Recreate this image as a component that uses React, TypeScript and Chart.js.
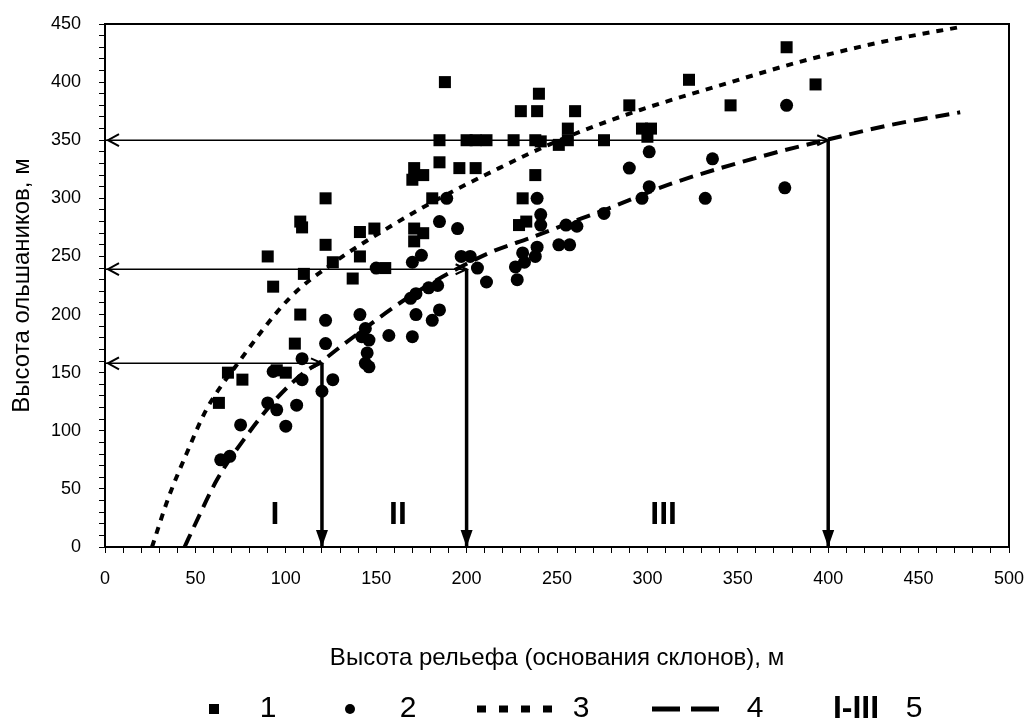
import React, { useEffect, useRef } from 'react';
import { Chart, registerables } from 'chart.js';

Chart.register(...registerables);

// ---- data ----
const squareX = [63, 68, 76, 90, 93, 95, 100, 105, 108, 108, 109, 110, 122, 122, 126, 137, 141, 141, 149, 155, 170, 171, 176, 171, 176, 171, 181, 185, 185, 188, 196, 205, 200, 205, 211, 226, 229, 233, 231, 230, 238, 238, 241, 239, 240, 251, 256, 256, 260, 276, 290, 297, 302, 300, 323, 346, 377, 393];
const squareY = [124, 150, 144, 250, 224, 152, 150, 175, 200, 280, 275, 235, 300, 260, 245, 231, 250, 271, 274, 240, 316, 326, 320, 274, 270, 263, 300, 331, 350, 400, 326, 326, 350, 350, 350, 350, 277, 280, 300, 375, 320, 350, 349, 375, 390, 346, 350, 360, 375, 350, 380, 360, 360, 353, 402, 380, 430, 398];

const circleX = [64, 69, 75, 90, 93, 95, 100, 106, 109, 109, 120, 122, 122, 126, 141, 142, 144, 146, 145, 144, 146, 150, 157, 169, 170, 170, 172, 172, 175, 179, 181, 184, 185, 185, 189, 195, 197, 202, 206, 211, 227, 228, 231, 232, 238, 239, 239, 241, 241, 251, 255, 257, 261, 276, 290, 297, 301, 301, 332, 336, 376, 377];
const circleY = [75, 78, 105, 124, 151, 118, 104, 122, 144, 162, 134, 175, 195, 144, 200, 181, 188, 178, 167, 158, 155, 240, 182, 214, 181, 245, 200, 218, 251, 223, 195, 225, 204, 280, 300, 274, 250, 250, 240, 228, 241, 230, 253, 245, 250, 258, 300, 286, 277, 260, 277, 260, 276, 287, 326, 300, 310, 340, 300, 334, 309, 380];

const trend3X = [26, 35, 45, 56, 73, 102, 125, 158, 185, 218, 241, 264, 296, 344, 388, 434, 475];
const trend3Y = [0, 42, 80, 118, 157, 214, 243, 276, 300, 326, 343, 358, 376, 399, 419, 436, 448];

const trend4X = [44, 50, 62, 78, 95, 110, 120, 130, 169, 211, 237, 264, 278, 314, 370, 401, 434, 473];
const trend4Y = [0, 20, 58, 95, 128, 150, 160, 172, 216, 252, 267, 283, 291, 313, 339, 351, 363, 374];

const arrowLevels = [158, 239, 350];
const arrowBounds = [120, 200, 400];

const zoneLabels = ['I', 'II', 'III'];
const zoneX = [94, 162, 309];
const zoneY = [27, 27, 27];

const xTickLabels = ['0', '50', '100', '150', '200', '250', '300', '350', '400', '450', '500'];
const yTickLabels = ['0', '50', '100', '150', '200', '250', '300', '350', '400', '450'];

const legendLabels = ['1', '2', '3', '4', '5'];
const legendZoneText = 'I-III';

const xTitle = 'Высота рельефа (основания склонов), м';
const yTitle = 'Высота ольшаников, м';

const FONT = '"Liberation Sans", Arial, sans-serif';

const pairs = (xs: number[], ys: number[]) => xs.map((x, i) => ({ x, y: ys[i] }));

const decorPlugin = {
  id: 'decor',
  afterDatasetsDraw(chart: any) {
    const { ctx, chartArea, scales } = chart;
    const xs = scales.x;
    const ys = scales.y;
    ctx.save();
    ctx.strokeStyle = '#000';
    ctx.lineWidth = 2;
    ctx.strokeRect(chartArea.left, chartArea.top, chartArea.right - chartArea.left, chartArea.bottom - chartArea.top);

    const x0 = xs.getPixelForValue(0);
    const y0 = ys.getPixelForValue(0);
    ctx.fillStyle = '#000';
    ctx.lineWidth = 2;
    for (let i = 0; i < arrowLevels.length; i++) {
      const py = ys.getPixelForValue(arrowLevels[i]);
      const px = xs.getPixelForValue(arrowBounds[i]);
      ctx.beginPath();
      ctx.moveTo(x0 + 14, py - 6);
      ctx.lineTo(x0 + 3, py);
      ctx.lineTo(x0 + 14, py + 6);
      ctx.stroke();
      ctx.beginPath();
      ctx.moveTo(px - 11, py - 5);
      ctx.lineTo(px, py);
      ctx.lineTo(px - 11, py + 5);
      ctx.stroke();
      ctx.beginPath();
      ctx.moveTo(px, y0);
      ctx.lineTo(px - 6, y0 - 17);
      ctx.lineTo(px + 6, y0 - 17);
      ctx.closePath();
      ctx.fill();
    }

    ctx.font = `bold 32px ${FONT}`;
    ctx.textAlign = 'center';
    ctx.textBaseline = 'middle';
    for (let i = 0; i < zoneLabels.length; i++) {
      ctx.fillText(zoneLabels[i], xs.getPixelForValue(zoneX[i]), ys.getPixelForValue(zoneY[i]));
    }
    ctx.restore();
  },
  afterDraw(chart: any) {
    const { ctx } = chart;
    const ly = 709;
    ctx.save();
    ctx.fillStyle = '#000';
    ctx.strokeStyle = '#000';
    ctx.fillRect(209, ly - 5, 10, 10);
    ctx.beginPath();
    ctx.arc(350, ly, 5, 0, Math.PI * 2);
    ctx.fill();
    ctx.lineWidth = 7;
    ctx.setLineDash([9, 13]);
    ctx.beginPath();
    ctx.moveTo(477, ly);
    ctx.lineTo(554, ly);
    ctx.stroke();
    ctx.lineWidth = 5;
    ctx.setLineDash([28, 11]);
    ctx.beginPath();
    ctx.moveTo(652, ly);
    ctx.lineTo(720, ly);
    ctx.stroke();
    ctx.setLineDash([]);
    ctx.textBaseline = 'middle';
    ctx.textAlign = 'center';
    ctx.font = `30px ${FONT}`;
    const lx = [268, 408, 581, 755, 914];
    legendLabels.forEach((t, i) => ctx.fillText(t, lx[i], ly));
    ctx.font = `bold 32px ${FONT}`;
    ctx.fillText(legendZoneText, 856, ly);
    ctx.restore();
  },
};

export default function App() {
  const ref = useRef<HTMLCanvasElement>(null);
  useEffect(() => {
    if (!ref.current) return;
    const arrowSets: any[] = [];
    arrowLevels.forEach((lv, i) => {
      arrowSets.push({
        type: 'line',
        data: [{ x: 0, y: lv }, { x: arrowBounds[i], y: lv }],
        borderColor: '#000',
        borderWidth: 1.5,
        pointRadius: 0,
        order: 5,
      });
      arrowSets.push({
        type: 'line',
        data: [{ x: arrowBounds[i], y: lv }, { x: arrowBounds[i], y: 0 }],
        borderColor: '#000',
        borderWidth: 3.5,
        pointRadius: 0,
        order: 5,
      });
    });
    const chart = new Chart(ref.current, {
      type: 'scatter',
      data: {
        datasets: [
          {
            type: 'line',
            data: pairs(trend3X, trend3Y),
            borderColor: '#000',
            borderWidth: 4,
            borderDash: [7, 7],
            borderCapStyle: 'butt',
            pointRadius: 0,
            tension: 0.4,
            cubicInterpolationMode: 'monotone',
            order: 3,
          } as any,
          {
            type: 'line',
            data: pairs(trend4X, trend4Y),
            borderColor: '#000',
            borderWidth: 4,
            borderDash: [14, 8],
            borderCapStyle: 'butt',
            pointRadius: 0,
            tension: 0.4,
            cubicInterpolationMode: 'monotone',
            order: 3,
          } as any,
          {
            data: pairs(squareX, squareY),
            pointStyle: 'rect',
            pointRadius: 8.5,
            backgroundColor: '#000',
            borderColor: '#000',
            borderWidth: 0,
            order: 1,
          },
          {
            data: pairs(circleX, circleY),
            pointStyle: 'circle',
            pointRadius: 6.5,
            backgroundColor: '#000',
            borderColor: '#000',
            borderWidth: 0,
            order: 2,
          },
          ...arrowSets,
        ],
      },
      options: {
        responsive: false,
        animation: false,
        events: [],
        layout: { padding: { left: 0, right: 20, top: 24, bottom: 53 } },
        plugins: { legend: { display: false }, tooltip: { enabled: false } },
        scales: {
          x: {
            type: 'linear',
            min: 0,
            max: 500,
            afterFit: (s: any) => {
              s.height = 126;
              s.paddingLeft = 0;
              s.paddingRight = 0;
            },
            ticks: {
              stepSize: 10,
              autoSkip: false,
              maxRotation: 0,
              padding: 15,
              color: '#000',
              font: { family: FONT, size: 18 },
              callback: (v: any) => (v % 50 === 0 ? xTickLabels[v / 50] : ''),
            },
            grid: { drawOnChartArea: false, drawTicks: true, tickLength: 6, color: '#000', lineWidth: 1 },
            border: { display: true, color: '#000', width: 2 },
            title: {
              display: true,
              text: xTitle,
              color: '#000',
              font: { family: FONT, size: 24 },
              padding: { top: 0, bottom: 0 },
            },
          },
          y: {
            type: 'linear',
            min: 0,
            max: 450,
            afterFit: (s: any) => {
              s.width = 105;
              s.paddingTop = 0;
              s.paddingBottom = 0;
            },
            ticks: {
              stepSize: 10,
              autoSkip: false,
              padding: 18,
              color: '#000',
              font: { family: FONT, size: 18 },
              callback: (v: any) => (v % 50 === 0 ? yTickLabels[v / 50] : ''),
            },
            grid: { drawOnChartArea: false, drawTicks: true, tickLength: 6, color: '#000', lineWidth: 1 },
            border: { display: true, color: '#000', width: 2 },
            title: {
              display: true,
              text: yTitle,
              color: '#000',
              font: { family: FONT, size: 24 },
              padding: { top: 8, bottom: 0 },
            },
          },
        },
      },
      plugins: [decorPlugin],
    });
    return () => chart.destroy();
  }, []);
  return (
    <div style={{ position: 'absolute', left: 0, top: 0, width: 1029, height: 726, background: '#fff' }}>
      <canvas ref={ref} width={1029} height={726} />
    </div>
  );
}
